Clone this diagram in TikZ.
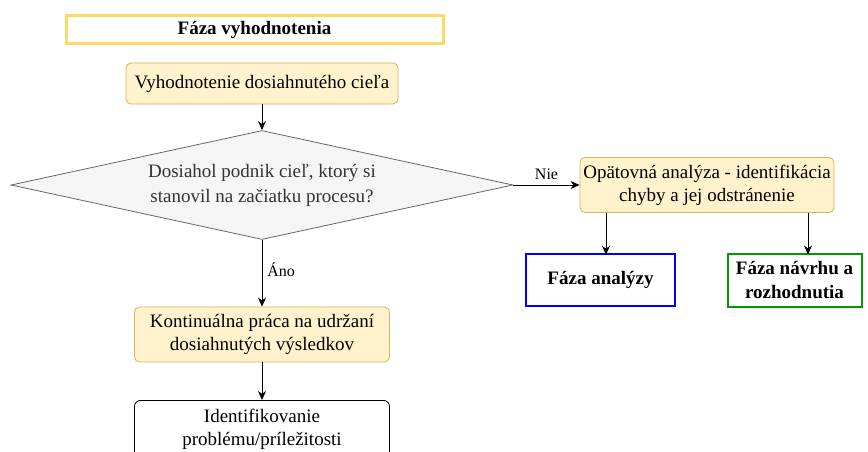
\documentclass[tikz,border=0pt]{standalone}
\usepackage{fontspec}
\setmainfont{Liberation Serif}
\usetikzlibrary{shapes.geometric,arrows.meta}
\definecolor{noteFill}{HTML}{FFF2CC}
\definecolor{noteLine}{HTML}{D6B656}
\definecolor{titleLine}{HTML}{FFD966}
\definecolor{decFill}{HTML}{F5F5F5}
\definecolor{decLine}{HTML}{666666}
\definecolor{decText}{HTML}{333333}
\definecolor{phaseBlue}{HTML}{0000FF}
\definecolor{phaseGreen}{HTML}{009900}
\begin{document}
\begin{tikzpicture}[x=1pt,y=-1pt,
  every node/.style={font=\fontsize{19}{23}\selectfont, align=center, inner sep=0pt},
  titlebox/.style={draw=titleLine, fill=white, line width=3pt},
  process/.style={draw=noteLine, fill=noteFill, rounded corners=5pt, line width=0.8pt},
  decision/.style={diamond, shape aspect=4.6, draw=decLine, fill=decFill, line width=0.8pt,
    text=decText, font=\fontsize{19}{25}\selectfont},
  phase/.style={fill=white, line width=2.5pt, font=\bfseries\fontsize{19}{24}\selectfont},
  plainbox/.style={draw=black, fill=white, rounded corners=6pt, line width=0.8pt},
  arr/.style={draw=black, line width=0.8pt, -{Stealth[length=9pt,width=8pt]}},
  lbl/.style={font=\fontsize{16}{18}\selectfont}
]
\useasboundingbox (0,0) rectangle (868,452);

% header
\node[titlebox, minimum width=377pt, minimum height=28pt, font=\bfseries\fontsize{19}{23}\selectfont]
  (title) at (254.5,30) {Fáza vyhodnotenia};

% main column
\node[process, minimum width=272pt, minimum height=41pt] (goal) at (262,83.5)
  {Vyhodnotenie dosiahnutého cieľa};
\node[decision, minimum width=502pt, minimum height=109pt] (check) at (262,185)
  {Dosiahol podnik cieľ, ktorý si\\stanovil na začiatku procesu?};
\node[process, minimum width=255pt, minimum height=55pt] (keep) at (262,334.5)
  {Kontinuálna práca na udržaní\\dosiahnutých výsledkov};
\node[plainbox, minimum width=255pt, minimum height=58pt, anchor=north] (ident) at (262,400)
  {Identifikovanie\\problému/príležitosti};

% right branch
\node[process, minimum width=254pt, minimum height=55pt] (redo) at (707,185)
  {Opätovná analýza - identifikácia\\chyby a jej odstránenie};
\node[phase, draw=phaseBlue, minimum width=149pt, minimum height=52pt] (analysis) at (600.5,280)
  {Fáza analýzy};
\node[phase, draw=phaseGreen, line width=2pt, minimum width=134pt, minimum height=53pt] (design) at (794.5,280)
  {Fáza návrhu a\\rozhodnutia};

% connectors
\coordinate (xa) at (606,0);
\coordinate (xd) at (808,0);
\draw[arr] (goal) -- (check.north);
\draw[arr] (check.east) -- node[lbl, above=5pt] {Nie} (check.east -| redo.west);
\draw[arr] (check.south) -- node[lbl, right=5pt, pos=0.45] {Áno} (keep.north);
\draw[arr] (keep) -- (ident.north);
\draw[arr] (redo.south -| xa) -- ([yshift=-2pt]analysis.north -| xa);
\draw[arr] (redo.south -| xd) -- ([yshift=-2pt]design.north -| xd);
\end{tikzpicture}
\end{document}
